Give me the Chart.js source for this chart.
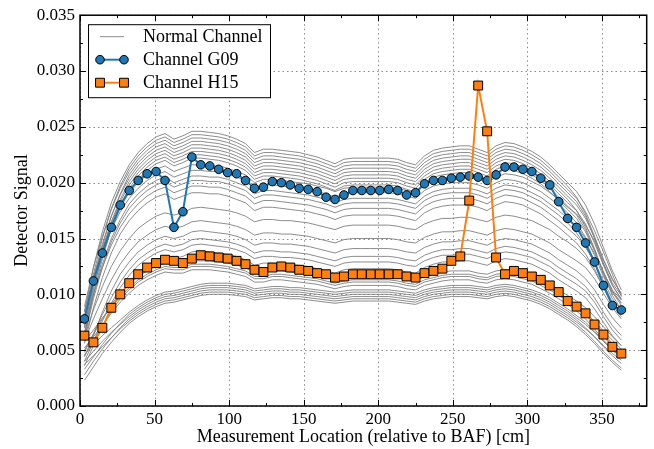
<!DOCTYPE html>
<html>
<head>
<meta charset="utf-8">
<script src="https://cdn.jsdelivr.net/npm/chart.js@4"></script>
<style>
  html, body { margin: 0; padding: 0; background: #fff; }
  canvas { display: block; }
</style>
</head>
<body>
<canvas id="detectorChart" width="654" height="449"></canvas>
<script>
// Measurement locations (cm, relative to BAF)
var locations = [3, 9, 15, 21, 27, 33, 39, 45, 51, 57, 63, 69, 75, 81, 87, 93, 99, 105, 111, 117,
  123, 129, 135, 141, 147, 153, 159, 165, 171, 177, 183, 189, 195, 201, 207, 213, 219, 225, 231, 237,
  243, 249, 255, 261, 267, 273, 279, 285, 291, 297, 303, 309, 315, 321, 327, 333, 339, 345, 351, 357, 363];

// all signal values below are in units of 1e-4
var SIGNAL_UNIT = 1e-4;

var channelG09 = [78, 112, 137, 160, 180, 193, 202, 208, 210, 202, 160, 174, 223, 216, 215,
  212, 209, 208, 202, 195, 196, 201, 200, 198, 195, 194, 192, 187, 185, 189, 193, 193, 193, 193, 194,
  193, 189, 191, 199, 202, 202, 204, 205, 206, 205, 202, 207, 214, 214, 212, 210, 204, 198, 183, 168,
  160, 146, 129, 108, 90, 86];

var channelH15 = [63, 57, 70, 88, 100, 110, 118, 124, 128, 131, 130, 128, 132, 135, 134,
  133, 132, 130, 127, 122, 120, 124, 125, 124, 122, 121, 119, 118, 115, 116, 118, 118, 118, 118, 118,
  118, 116, 115, 119, 121, 123, 130, 134, 184, 287, 246, 133, 118, 121, 119, 116, 113, 108, 102, 94,
  89, 83, 73, 64, 53, 47];

// the normal (healthy) channels, drawn in grey
var normalChannels = [
  [84,124,156,182,201, 216,227,235,241,244,239,242,246,246,245, 244,242,239,235,227,230,230,229,228,227, 225,223,220,217,221,222,222,222,222,222, 221,218,216,224,229,231,232,233,233,230, 227,233,236,235,232,228,223,216,208,200, 192,180,163,142,121,104],
  [80,118,150,177,197, 213,224,232,238,241,236,239,243,243,242, 241,239,236,232,224,227,227,226,225,224, 222,220,217,214,218,219,219,219,219,219, 218,215,213,221,226,228,229,230,230,227, 224,230,233,232,229,225,220,213,205,197, 187,172,152,131,114,100],
  [89,124,152,176,195, 210,221,229,235,238,233,236,240,240,239, 238,236,233,229,221,224,224,223,222,221, 219,217,214,211,215,216,216,216,216,216, 215,212,210,218,223,225,226,227,227,224, 221,227,230,229,226,222,217,210,202,194, 186,174,157,138,118,98],
  [70,110,143,170,190, 207,218,226,232,235,230,233,237,237,236, 235,233,230,226,218,221,221,220,219,218, 216,214,211,208,212,213,213,213,213,213, 212,209,207,215,220,222,223,224,224,221, 218,224,227,226,223,219,214,207,199,191, 183,170,150,127,108,95],
  [76,114,145,170,189, 204,215,223,229,232,227,230,234,234,233, 232,230,227,223,215,218,218,217,216,215, 213,211,208,205,209,210,210,210,210,210, 209,206,204,212,217,219,220,221,221,218, 215,221,224,223,220,216,211,204,196,188, 180,168,151,131,113,101],
  [64,104,138,165,185, 201,212,220,226,229,224,227,231,231,230, 229,227,224,220,212,215,215,214,213,212, 210,208,205,202,206,207,207,207,207,207, 206,203,201,209,214,216,217,218,218,215, 212,218,221,220,217,213,208,201,193,185, 175,160,141,119,102,90],
  [78,112,140,164,183, 198,209,217,223,226,221,224,228,228,227, 226,224,221,217,209,212,212,211,210,209, 207,205,202,199,203,204,204,204,204,204, 203,200,198,206,211,213,214,215,215,212, 209,215,218,217,214,210,205,198,190,182, 175,163,146,126,108,96],
  [60,100,132,159,179, 195,206,214,220,223,218,221,225,225,224, 223,221,218,214,206,209,209,208,207,206, 204,202,199,196,200,201,201,201,201,201, 200,197,195,203,208,210,211,212,212,209, 206,212,215,214,211,207,202,195,187,179, 171,158,140,118,99,86],
  [72,106,134,158,177, 192,203,211,217,220,215,218,222,222,221, 220,218,215,211,203,206,206,205,204,203, 201,199,196,193,197,198,198,198,198,198, 197,194,192,200,205,207,208,209,209,206, 203,209,212,211,208,204,199,192,184,176, 168,156,139,120,103,92],
  [80,114,141,163,179, 191,200,207,212,215,210,213,216,216,215, 215,213,210,207,200,203,203,202,201,200, 199,197,195,192,195,196,196,196,196,196, 195,193,191,198,202,204,205,205,205,203, 200,205,208,207,205,201,197,191,185,178, 172,162,148,128,110,99],
  [85,116,139,158,174, 186,195,202,207,210,205,208,211,211,210, 210,208,205,202,195,198,198,197,196,195, 194,192,190,187,190,191,191,191,191,191, 190,188,186,193,197,199,200,200,200,198, 195,200,203,202,200,196,192,186,180,173, 164,151,135,116,101,93],
  [66,100,127,150,167, 181,190,197,202,205,200,203,206,206,205, 205,203,200,197,190,193,193,192,191,190, 189,187,185,182,185,186,186,186,186,186, 185,183,181,188,192,194,195,195,195,193, 190,195,198,197,195,191,187,181,175,168, 161,150,137,120,104,95],
  [62,96,124,147,164, 177,186,193,198,201,196,199,202,202,201, 201,199,196,193,186,189,189,188,187,186, 185,183,181,178,181,182,182,182,182,182, 181,179,177,184,188,190,191,191,191,189, 186,191,194,193,191,187,183,177,171,164, 155,143,128,109,93,84],
  [71,100,124,144,160, 172,181,188,193,196,191,194,197,197,196, 196,194,191,188,181,184,184,183,182,181, 180,178,176,173,176,177,177,177,177,177, 176,174,172,179,183,185,186,186,186,184, 181,186,189,188,186,182,178,172,166,159, 152,142,129,112,96,86],
  [56,88,115,137,154, 166,175,182,187,190,185,188,191,191,190, 190,188,185,182,175,178,178,177,176,175, 174,172,170,167,170,171,171,171,171,171, 170,168,166,173,177,179,180,180,180,178, 175,180,183,182,180,176,172,166,160,153, 146,136,123,106,90,80],
  [62,86,107,125,139, 150,159,165,170,173,171,173,177,178,177, 176,175,173,170,165,167,167,166,166,165, 164,162,160,158,161,162,162,162,162,162, 161,159,158,163,166,168,168,169,169,167, 165,169,171,170,168,166,162,158,152,147, 141,133,121,106,92,82],
  [58,78,96,113,127, 138,147,153,158,161,159,161,165,166,165, 164,163,161,158,153,155,155,154,154,153, 152,150,148,146,149,150,150,150,150,150, 149,147,146,151,154,156,156,157,157,155, 153,157,159,158,156,154,150,146,140,135, 130,124,114,101,88,78],
  [44,63,84,103,118, 129,138,144,149,152,150,152,156,157,156, 155,154,152,149,144,146,146,145,145,144, 143,141,139,137,140,141,141,141,141,141, 140,138,137,142,145,147,147,148,148,146, 144,148,150,149,147,145,141,137,131,126, 121,114,104,91,79,70],
  [48,65,82,97,111, 122,131,137,142,145,143,145,149,150,149, 148,147,145,142,137,139,139,138,138,137, 136,134,132,130,133,134,134,134,134,134, 133,131,130,135,138,140,140,141,141,139, 137,141,143,142,140,138,134,130,124,119, 114,107,97,84,72,63],
  [40,58,76,92,106, 117,126,132,137,140,138,140,144,145,144, 143,142,140,137,132,134,134,133,133,132, 131,129,127,125,128,129,129,129,129,129, 128,126,125,130,133,135,135,136,136,134, 132,136,138,137,135,133,129,125,119,114, 109,103,93,80,68,59],
  [36,54,71,87,100, 111,120,126,131,134,132,134,138,139,138, 137,136,134,131,126,128,128,127,127,126, 125,123,121,119,122,123,123,123,123,123, 122,120,119,124,127,129,129,130,130,128, 126,130,132,131,129,127,123,119,113,108, 103,97,87,75,63,54],
  [50,64,78,91,101, 109,116,121,125,128,127,127,130,130,130, 129,128,126,124,119,119,121,121,120,119, 118,117,115,113,115,116,116,116,116,116, 115,113,112,116,118,120,121,121,121,119, 118,121,122,121,119,117,113,109,104,99, 94,88,80,71,62,54],
  [58,68,79,88,98, 106,113,118,122,125,124,124,127,127,127, 126,125,123,121,116,116,118,118,117,116, 115,114,112,110,112,113,113,113,113,113, 112,110,109,113,115,117,118,118,118,116, 115,118,119,118,116,114,110,106,101,96, 90,83,74,65,56,48],
  [45,58,72,85,96, 104,111,116,120,123,122,122,125,125,125, 124,123,121,119,114,114,116,116,115,114, 113,112,110,108,110,111,111,111,111,111, 110,108,107,111,113,115,116,116,116,114, 113,116,117,116,114,112,108,104,99,94, 89,83,76,67,59,51],
  [52,62,72,83,93, 101,108,113,117,120,119,119,122,122,122, 121,120,118,116,111,111,113,113,112,111, 110,109,107,105,107,108,108,108,108,108, 107,105,104,108,110,112,113,113,113,111, 110,113,114,113,111,109,105,101,96,91, 85,78,69,59,51,44],
  [46,55,63,70,77, 84,90,95,99,102,103,105,107,109,110, 110,110,109,108,105,106,107,107,106,106, 105,104,103,102,103,104,104,104,104,104, 103,102,101,104,106,107,108,108,108,107, 106,108,109,108,106,104,101,97,92,87, 81,75,67,58,50,43],
  [33,44,55,65,74, 82,88,93,97,100,101,103,105,107,108, 108,108,107,106,103,104,105,105,104,104, 103,102,101,100,101,102,102,102,102,102, 101,100,99,102,104,105,106,106,106,105, 104,106,107,106,104,102,99,95,90,85, 79,73,66,58,50,44],
  [40,49,58,66,73, 80,86,91,95,98,99,101,103,105,106, 106,106,105,104,101,102,103,103,102,102, 101,100,99,98,99,100,100,100,100,100, 99,98,97,100,102,103,104,104,104,103, 102,104,105,104,102,100,97,93,88,83, 77,70,62,53,45,38],
  [28,40,51,61,70, 78,84,89,93,96,97,99,101,103,104, 104,104,103,102,99,100,101,101,100,100, 99,98,97,96,97,98,98,98,98,98, 97,96,95,98,100,101,102,102,102,101, 100,102,103,102,100,98,95,91,86,81, 75,69,62,54,47,41],
  [37,45,53,61,69, 76,82,87,91,94,95,97,99,101,102, 102,102,101,100,97,98,99,99,98,98, 97,96,95,94,95,96,96,96,96,96, 95,94,93,96,98,99,100,100,100,99, 98,100,101,100,98,96,93,89,84,79, 73,66,58,49,41,34],
  [23,35,47,57,66, 74,80,85,89,92,93,95,97,99,100, 100,100,99,98,95,96,97,97,96,96, 95,94,93,92,93,94,94,94,94,94, 93,92,91,94,96,97,98,98,98,97, 96,98,99,98,96,94,91,87,82,77, 71,64,56,47,39,32]
];

var xAxisMin = 0, xAxisMax = 380, xStep = 50, xMinorStep = 25;
var yAxisMin = 0, yAxisMax = 0.035, yStep = 0.005, yMinorStep = 0.0025;

var FONT = '"Liberation Serif", "Times New Roman", serif';
var BLUE = '#1f77b4';
var ORANGE = '#ff7f0e';
var GREY = 'rgba(128,128,128,0.9)';
var GRID = '#8a8a8a';

function toPoints(values) {
  return values.map(function (v, i) {
    return { x: locations[i], y: v * SIGNAL_UNIT };
  });
}

Chart.defaults.font.family = FONT;
Chart.defaults.color = '#000';

var datasets = [
  {
    label: 'Channel H15',
    data: toPoints(channelH15),
    borderColor: ORANGE,
    backgroundColor: ORANGE,
    borderWidth: 2,
    pointStyle: 'rect',
    pointRadius: 6.3,
    pointBorderColor: '#000',
    pointBorderWidth: 1,
    order: 0
  },
  {
    label: 'Channel G09',
    data: toPoints(channelG09),
    borderColor: BLUE,
    backgroundColor: BLUE,
    borderWidth: 2,
    pointStyle: 'circle',
    pointRadius: 4.3,
    pointBorderColor: '#000',
    pointBorderWidth: 1,
    order: 1
  }
];

normalChannels.forEach(function (values, i) {
  datasets.push({
    label: i === 0 ? 'Normal Channel' : '',
    data: toPoints(values),
    borderColor: GREY,
    borderWidth: 1,
    pointRadius: 0,
    order: 2
  });
});

// dotted grid, drawn under the data
var gridPlugin = {
  id: 'dottedGrid',
  beforeDatasetsDraw: function (chart) {
    var ctx = chart.ctx;
    var a = chart.chartArea;
    var sx = chart.scales.x;
    var sy = chart.scales.y;
    ctx.save();
    ctx.strokeStyle = GRID;
    ctx.lineWidth = 1;
    ctx.setLineDash([1.5, 3]);
    ctx.beginPath();
    sx.ticks.forEach(function (t) {
      var p = Math.round(sx.getPixelForValue(t.value)) + 0.5;
      ctx.moveTo(p, a.top);
      ctx.lineTo(p, a.bottom);
    });
    sy.ticks.forEach(function (t) {
      var p = Math.round(sy.getPixelForValue(t.value)) + 0.5;
      ctx.moveTo(a.left, p);
      ctx.lineTo(a.right, p);
    });
    ctx.stroke();
    ctx.restore();
  }
};

// black frame plus inward major/minor ticks, like the original figure
var framePlugin = {
  id: 'frame',
  afterDatasetsDraw: function (chart) {
    var ctx = chart.ctx;
    var a = chart.chartArea;
    var sx = chart.scales.x;
    var sy = chart.scales.y;
    ctx.save();
    ctx.strokeStyle = '#000';
    ctx.lineWidth = 1;
    ctx.beginPath();
    var v, p, len;
    for (v = xAxisMin; v <= xAxisMax + 1e-9; v += xMinorStep) {
      p = Math.round(sx.getPixelForValue(v)) + 0.5;
      len = (Math.round(v / xMinorStep) % 2 === 0) ? 6 : 3;
      ctx.moveTo(p, a.bottom); ctx.lineTo(p, a.bottom - len);
      ctx.moveTo(p, a.top); ctx.lineTo(p, a.top + len);
    }
    for (var k = 0; k * yMinorStep <= yAxisMax + 1e-9; k++) {
      v = k * yMinorStep;
      p = Math.round(sy.getPixelForValue(v)) + 0.5;
      len = (k % 2 === 0) ? 6 : 3;
      ctx.moveTo(a.left, p); ctx.lineTo(a.left + len, p);
      ctx.moveTo(a.right, p); ctx.lineTo(a.right - len, p);
    }
    ctx.stroke();
    ctx.lineWidth = 1.5;
    ctx.strokeRect(a.left, a.top, a.right - a.left, a.bottom - a.top);
    ctx.restore();
  }
};

// legend box drawn by hand so each entry can show a marker at both ends
var legendPlugin = {
  id: 'boxLegend',
  afterDraw: function (chart) {
    var ctx = chart.ctx;
    var a = chart.chartArea;
    var bx = a.left + 8, by = a.top + 9, bw = 182, bh = 73;
    var x1 = bx + 12, x2 = bx + 36, tx = bx + 55;
    var rows = [
      { text: 'Normal Channel', color: GREY, width: 1, marker: null },
      { text: 'Channel G09', color: BLUE, width: 2, marker: 'circle' },
      { text: 'Channel H15', color: ORANGE, width: 2, marker: 'rect' }
    ];
    ctx.save();
    ctx.fillStyle = '#fff';
    ctx.fillRect(bx, by, bw, bh);
    ctx.strokeStyle = '#000';
    ctx.lineWidth = 1;
    ctx.strokeRect(bx + 0.5, by + 0.5, bw, bh);
    ctx.font = '18px ' + FONT;
    ctx.textBaseline = 'middle';
    rows.forEach(function (r, i) {
      var y = by + 12.5 + i * 23;
      ctx.strokeStyle = r.color;
      ctx.lineWidth = r.width;
      ctx.beginPath();
      ctx.moveTo(x1, y);
      ctx.lineTo(x2, y);
      ctx.stroke();
      if (r.marker) {
        [x1, x2].forEach(function (mx) {
          ctx.beginPath();
          if (r.marker === 'circle') {
            ctx.arc(mx, y, 4.3, 0, Math.PI * 2);
          } else {
            ctx.rect(mx - 4.45, y - 4.45, 8.9, 8.9);
          }
          ctx.fillStyle = r.color;
          ctx.fill();
          ctx.strokeStyle = '#000';
          ctx.lineWidth = 1;
          ctx.stroke();
        });
      }
      ctx.fillStyle = '#000';
      ctx.fillText(r.text, tx, y + 1);
    });
    ctx.restore();
  }
};

var ctx = document.getElementById('detectorChart').getContext('2d');

var detectorChart = new Chart(ctx, {
  type: 'line',
  data: { datasets: datasets },
  options: {
    responsive: false,
    animation: false,
    devicePixelRatio: 1,
    layout: { padding: { top: 14, right: 4, left: 0, bottom: 0 } },
    elements: { line: { tension: 0 } },
    plugins: {
      legend: { display: false },
      tooltip: { enabled: false }
    },
    scales: {
      x: {
        type: 'linear',
        min: xAxisMin,
        max: xAxisMax,
        ticks: {
          stepSize: xStep,
          includeBounds: false,
          maxRotation: 0,
          padding: 3,
          font: { size: 17 },
          color: '#000'
        },
        grid: { display: false, drawTicks: false },
        border: { display: false },
        title: {
          display: true,
          text: 'Measurement Location (relative to BAF) [cm]',
          font: { size: 18 },
          color: '#000',
          padding: { top: 0, bottom: 1 }
        },
        afterFit: function (scale) { scale.height = 43; }
      },
      y: {
        min: yAxisMin,
        max: yAxisMax,
        ticks: {
          stepSize: yStep,
          padding: 5,
          font: { size: 17 },
          color: '#000',
          callback: function (v) { return Number(v).toFixed(3); }
        },
        grid: { display: false, drawTicks: false },
        border: { display: false },
        title: {
          display: true,
          text: 'Detector Signal',
          font: { size: 18 },
          color: '#000',
          padding: { top: 11, bottom: 0 }
        },
        afterFit: function (scale) { scale.width = 80; }
      }
    }
  },
  plugins: [gridPlugin, framePlugin, legendPlugin]
});
</script>
</body>
</html>
